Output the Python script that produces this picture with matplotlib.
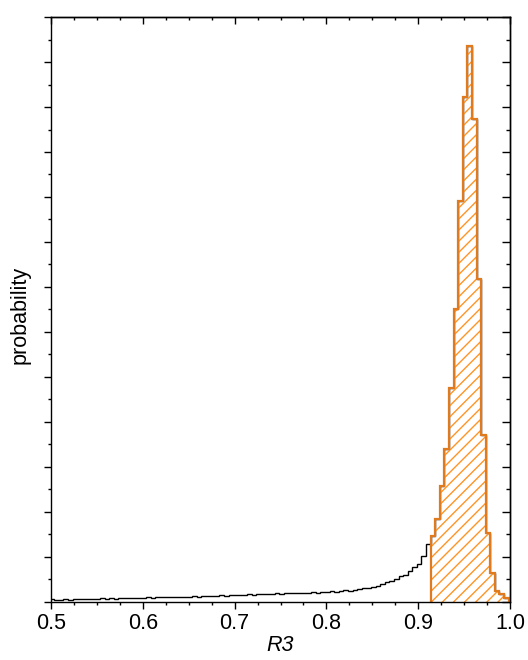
import numpy as np
import matplotlib.pyplot as plt
from matplotlib.ticker import MultipleLocator, NullFormatter

plt.rcParams['font.family'] = ['Liberation Sans', 'DejaVu Sans']
plt.rcParams['hatch.linewidth'] = 1.0

# bin layout (width 0.005)
x_start = 0.4985
bin_w = 0.005

# distribution of R3 below the selected window
tail = [0.05, 0.04, 0.04, 0.05, 0.04, 0.05, 0.06, 0.05, 0.05, 0.06,
        0.06, 0.07, 0.06, 0.07, 0.06, 0.07, 0.08, 0.07, 0.07, 0.08,
        0.08, 0.09, 0.08, 0.09, 0.10, 0.09, 0.10, 0.10, 0.11, 0.10,
        0.11, 0.12, 0.11, 0.12, 0.13, 0.12, 0.13, 0.14, 0.13, 0.14,
        0.15, 0.14, 0.15, 0.16, 0.15, 0.16, 0.17, 0.16, 0.17, 0.18,
        0.17, 0.18, 0.19, 0.18, 0.19, 0.20, 0.19, 0.21, 0.20, 0.21,
        0.22, 0.23, 0.22, 0.24, 0.25, 0.24, 0.26, 0.27, 0.29, 0.30,
        0.32, 0.35, 0.39, 0.43, 0.46, 0.49, 0.56, 0.60, 0.67, 0.76,
        0.84, 1.02, 1.28]

# selected window (hatched)
peak = [1.45, 1.83, 2.57, 3.39, 4.76, 6.50, 8.92, 11.22, 12.36,
        10.74, 7.18, 3.71, 1.53, 0.64, 0.24, 0.16, 0.07]

all_vals = np.array(tail + peak)
edges = x_start + bin_w * np.arange(len(all_vals) + 1)
n_tail = len(tail)
peak_edges = edges[n_tail:]

fig = plt.figure(figsize=(5.28, 6.6), dpi=100)
ax = fig.add_axes([0.0966, 0.0886, 0.8694, 0.8854])

ax.stairs(all_vals, edges, color='black', linewidth=1.0, baseline=None)

# hatched fill, then outline on top
ax.stairs(peak, peak_edges, fill=True, facecolor='none', edgecolor='#FF9426',
          hatch='///', linewidth=0)
ax.stairs(peak, peak_edges, color='#E07A1F', linewidth=1.6, baseline=0)

ax.set_xlim(0.5, 1.0)
ax.set_ylim(0, 13)

ax.xaxis.set_major_locator(MultipleLocator(0.1))
ax.xaxis.set_minor_locator(MultipleLocator(0.025))
ax.yaxis.set_major_locator(MultipleLocator(1))
ax.yaxis.set_minor_locator(MultipleLocator(0.5))
ax.yaxis.set_major_formatter(NullFormatter())
ax.xaxis.set_major_formatter(plt.FuncFormatter(lambda v, p: f'{v:.1f}'))

ax.tick_params(axis='both', which='major', direction='out', length=5, width=1,
               labelsize=15.5, pad=3)
ax.tick_params(axis='both', which='minor', direction='out', length=2.5, width=1)

# inward ticks on the top and right spines
top = ax.secondary_xaxis('top')
top.xaxis.set_major_locator(MultipleLocator(0.1))
top.xaxis.set_minor_locator(MultipleLocator(0.025))
top.tick_params(which='major', direction='in', length=5, width=1, labeltop=False)
top.tick_params(which='minor', direction='in', length=2.5, width=1)
top.spines['top'].set_linewidth(1)

right = ax.secondary_yaxis('right')
right.yaxis.set_major_locator(MultipleLocator(1))
right.yaxis.set_minor_locator(MultipleLocator(0.5))
right.tick_params(which='major', direction='in', length=6, width=1, labelright=False)
right.tick_params(which='minor', direction='in', length=3, width=1)
right.spines['right'].set_linewidth(1)

for s in ax.spines.values():
    s.set_linewidth(1)

ax.set_xlabel('R3', fontsize=15.5, fontstyle='italic', labelpad=1)
ax.set_ylabel('probability', fontsize=15.5)
ax.yaxis.set_label_coords(-0.045, 0.49)

fig.savefig('out.png', dpi=100)
